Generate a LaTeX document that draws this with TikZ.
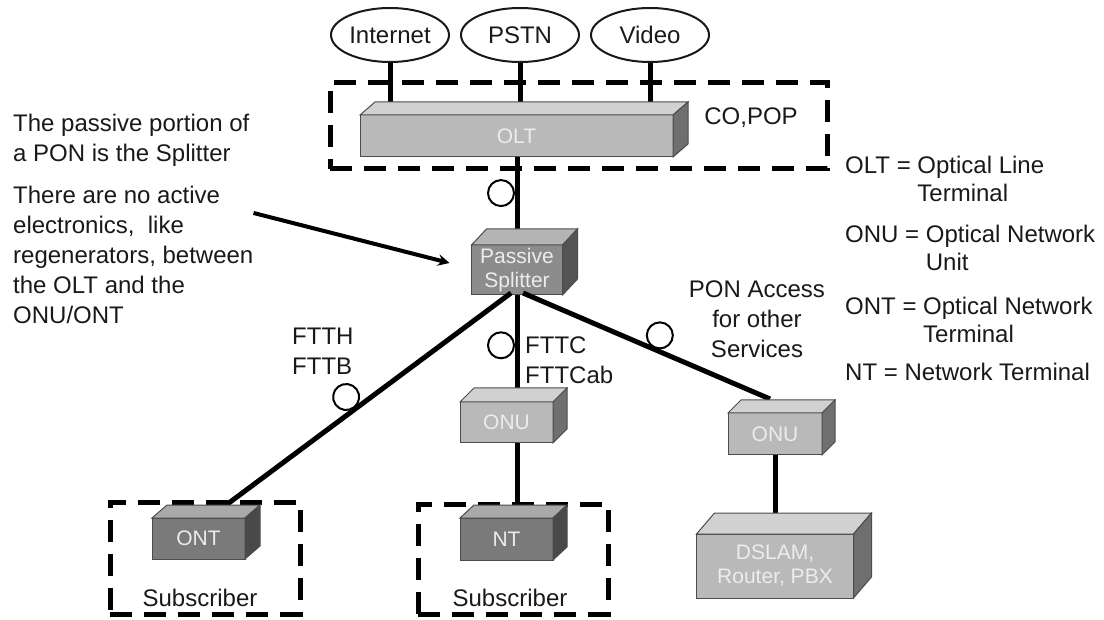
\documentclass[tikz,border=0pt]{standalone}
\usepackage{fontspec}
\setmainfont{Liberation Sans}
\usetikzlibrary{shapes.geometric, arrows, positioning, calc}
\definecolor{boxlight}{RGB}{185,185,185}
\definecolor{boxmid}{RGB}{140,140,140}
\definecolor{boxdark}{RGB}{122,122,122}
\definecolor{boxtext}{RGB}{236,236,236}
\definecolor{ink}{RGB}{25,25,25}
\tikzstyle{device} = [rectangle, draw=black!70, line width=1pt, inner sep=0pt, outer sep=0pt, text=boxtext, font=\fontsize{21}{24}\selectfont, align=center]
\tikzstyle{face} = [draw=black!70, line width=1pt]
\tikzstyle{service} = [ellipse, draw=ink, line width=2pt, minimum width=118pt, minimum height=54pt, inner sep=0pt, font=\fontsize{24}{28}\selectfont, text=ink]
\tikzstyle{zone} = [rectangle, draw=black, line width=5pt, dash pattern=on 22pt off 12pt, inner sep=0pt]
\tikzstyle{fiber} = [line width=5pt, draw=black]
\tikzstyle{coil} = [circle, draw=black, line width=2pt, minimum size=26pt, inner sep=0pt]
\tikzstyle{textblk} = [font=\fontsize{24}{30}\selectfont, align=left, inner sep=0pt, text=ink]
\tikzstyle{pointer} = [line width=4pt, ->, >=stealth]

\begin{document}
\begin{tikzpicture}[x=1pt, y=-1pt]
\useasboundingbox (0,0) rectangle (1104,620);

\node (co) [zone, minimum width=497pt, minimum height=86pt] at (578.5,126) {};
\node (subl) [zone, minimum width=190pt, minimum height=112pt] at (205,558) {};
\node (subr) [zone, minimum width=190pt, minimum height=110pt] at (513,559) {};

\node (olt) [device, fill=boxlight, minimum width=313pt, minimum height=42pt] at (516.5,136) {OLT};
\node (split) [device, fill=boxmid, minimum width=91pt, minimum height=50pt] at (517,270) {Passive\\Splitter};
\node (onuc) [device, fill=boxlight, minimum width=93pt, minimum height=41pt] at (506.5,422.5) {ONU};
\node (nt) [device, fill=boxdark, minimum width=93pt, minimum height=42pt, below=75pt of onuc] {NT};
\node (ont) [device, fill=boxdark, minimum width=93pt, minimum height=41pt] at (198.5,538.5) {ONT};
\node (onur) [device, fill=boxlight, minimum width=94pt, minimum height=42pt] at (775,434) {ONU};
\node (dslam) [device, fill=boxlight, minimum width=157pt, minimum height=64pt, below=79pt of onur] {DSLAM,\\Router, PBX};

\node (inet) [service] at (390,35) {Internet};
\node (pstn) [service, right=10pt of inet] {PSTN};
\node (video) [service, right=10pt of pstn] {Video};

\draw [fiber] (inet.south) -- (inet.south |- olt.north);
\draw [fiber] (pstn.south) -- (pstn.south |- olt.north);
\draw [fiber] (video.south) -- (video.south |- olt.north);
\draw [fiber] (olt.south -| split.north) -- node[coil, pos=0.41, left=2pt] {} (split.north);
\draw [fiber] ($(split.south)+(-6,-2)$) -- node[coil, pos=0.55, sloped, above=1pt] {} ($(ont.north)+(29,-14)$);
\draw [fiber] (split.south) -- node[coil, pos=0.47, left=2pt] {} (split.south |- onuc.north);
\draw [fiber] ($(split.south)+(6,-2)$) -- node[coil, pos=0.53, sloped, above=1pt] {} ($(onur.north)+(-5,-14)$);
\draw [fiber] (onuc.south -| split.south) -- (nt.north -| split.south);
\draw [fiber] (onur.south) -- (onur.south |- dslam.north);

\foreach \b/\dx/\dy/\c in {olt/15/13/boxlight, split/15/16/boxmid, onuc/14/14/boxlight, nt/14/13/boxdark, ont/15/13/boxdark, onur/13/13/boxlight, dslam/18/21/boxlight}
{
  \filldraw [face, fill=\c!65!white] (\b.north west) -- ++(\dx,-\dy) -- ($(\b.north east)+(\dx,-\dy)$) -- (\b.north east) -- cycle;
  \filldraw [face, fill=\c!60!black] (\b.north east) -- ++(\dx,-\dy) -- ($(\b.south east)+(\dx,-\dy)$) -- (\b.south east) -- cycle;
}

\node (copop) [textblk] at (751,118) {CO,POP};
\node (note1) [textblk, anchor=west] at (13,140) {The passive portion of\\a PON is the Splitter};
\node (note2) [textblk, anchor=west] at (13,255) {There are no active\\electronics,\ \ like\\regenerators, between\\the OLT and the\\ONU/ONT};
\node (ftth) [textblk, anchor=west] at (292,351) {FTTH\\FTTB};
\node (fttc) [textblk, anchor=west] at (525,360) {FTTC\\FTTCab};
\node (ponacc) [textblk, align=center] at (757,319) {PON Access\\for other\\Services};
\node (subltxt) [textblk] at (200,598) {Subscriber};
\node (subrtxt) [textblk] at (510,598) {Subscriber};

\node (legolt) [textblk, anchor=north west, font=\fontsize{24}{28}\selectfont] at (845,154) {\begin{tabular}{@{}l@{ }l@{}}OLT = & Optical Line\\ & Terminal\end{tabular}};
\node (legonu) [textblk, below=12pt of legolt.south west, anchor=north west, font=\fontsize{24}{28}\selectfont] {\begin{tabular}{@{}l@{ }l@{}}ONU = & Optical Network\\ & Unit\end{tabular}};
\node (legont) [textblk, below=16pt of legonu.south west, anchor=north west, font=\fontsize{24}{28}\selectfont] {\begin{tabular}{@{}l@{ }l@{}}ONT = & Optical Network\\ & Terminal\end{tabular}};
\node (legnt) [textblk, below=12pt of legont.south west, anchor=north west, font=\fontsize{24}{28}\selectfont] {NT = Network Terminal};

\draw [pointer] ($(note2.north east)+(0,27)$) -- ($(split.west)+(-22,-7)$);

\end{tikzpicture}
\end{document}
